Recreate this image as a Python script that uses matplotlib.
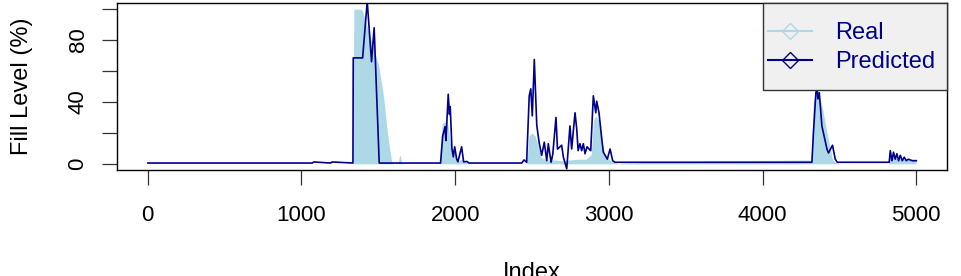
import numpy as np
import matplotlib.pyplot as plt
from matplotlib.lines import Line2D
from matplotlib.patches import Rectangle

# Predicted fill level (index, %) at the turning points
pred_idx = [1, 1070, 1080, 1190, 1200, 1335, 1337, 1398, 1428, 1456, 1473, 1506,
            1905, 1919, 1934, 1940, 1955, 1963, 1968, 1979, 1988, 1997, 2010, 2018,
            2042, 2055, 2077, 2090,
            2433, 2448, 2465, 2482, 2492, 2502, 2515, 2531, 2546, 2563, 2580, 2596,
            2606, 2624, 2635, 2656, 2666, 2693, 2704, 2726, 2747, 2758, 2780, 2791,
            2800, 2812, 2823, 2834, 2845, 2858, 2882, 2899, 2915, 2921, 2936, 2954,
            2964, 2990, 3008, 3025, 3040,
            4321, 4331, 4347, 4355, 4360, 4369, 4386, 4419, 4429, 4455, 4473, 4486,
            4824, 4831, 4842, 4852, 4863, 4874, 4885, 4896, 4909, 4922, 4935, 4948,
            4974, 5000]
pred_val = [0.5, 0.5, 1.2, 0.5, 1.2, 0.5, 68.5, 68.5, 105, 66, 88, 0.5,
            0.5, 18, 24, 15, 45, 32, 37, 10, 4.5, 11, 3, 1.3,
            11, 1.3, 1.5, 0.5,
            0.5, 2.5, 1, 44, 48.5, 31, 67.5, 25, 14, 5.5, 14, 2,
            13, 1, 6, 30, 9.5, 12, 4.3, -3.2, 24.5, 9.6, 33, 22.5,
            8.5, 13, 8.5, 13, 6.5, 11, 8.5, 44, 33, 40.5, 33, 16,
            7.5, 3, 9.6, 2, 1,
            1, 20, 46, 49, 42, 46, 24.5, 9.5, 7, 12, 3, 1,
            1, 8.5, 2, 7.5, 3, 6.5, 2, 5.5, 2, 4.3, 2, 3,
            2, 2]

# Real fill level (index, %)
real_idx = [1, 1335, 1341, 1391, 1400, 1504, 1536, 1558, 1587, 1600, 1628, 1641, 1654,
            1900, 1907, 1917, 1944, 1953, 1966, 1979, 1999, 2018, 2044, 2070, 2090,
            2460, 2470, 2480, 2500, 2520, 2540, 2560, 2600, 2650, 2700, 2750, 2800,
            2850, 2885, 2900, 2915, 2935, 2955, 2975, 3000, 3030, 3060,
            3100, 3500, 4300, 4318, 4330, 4345, 4365, 4386, 4410, 4435, 4455, 4470,
            4500, 4820, 4830, 4900, 4950, 5000]
real_val = [0, 0, 100, 100, 98, 63, 42, 21, 1, 0, 0, 6, 0,
            0, 15, 26, 28, 25, 15, 8, 6, 2, 3, 1, 0,
            0, 5, 18, 20, 18, 12, 4, 2.5, 2.5, 2, 2.5, 3,
            3, 6, 28, 31, 28, 15, 6, 3, 1, 0,
            0.5, 1.5, 2.5, 2, 40, 46, 45, 38, 25, 12, 3, 1,
            0, 0, 5, 3, 3, 3]

x_ticks = [0, 1000, 2000, 3000, 4000, 5000]
y_ticks = [0, 20, 40, 60, 80, 100]
y_labels = ['0', '', '40', '', '80', '']

plt.rcParams['font.family'] = ['Liberation Sans', 'DejaVu Sans']

fig = plt.figure(figsize=(9.61, 2.76), dpi=100)
ax = fig.add_axes([117 / 961, 1 - 170 / 276, 830 / 961, 167 / 276])

ax.fill_between(real_idx, real_val, 0, color='lightblue', lw=0)
ax.plot(pred_idx, pred_val, color='darkblue', lw=1.2)

ax.set_xlim(-200, 5200)
ax.set_ylim(-4, 104)
ax.set_xticks(x_ticks)
ax.set_yticks(y_ticks)
ax.set_yticklabels(y_labels, rotation=90, va='center')

for s in ax.spines.values():
    s.set_linewidth(1.0)
    s.set_color('black')
ax.tick_params(axis='both', length=10.5, width=0.9, labelsize=16, color='#333333')
ax.tick_params(axis='x', pad=14.5)
ax.tick_params(axis='y', pad=10)

ax.set_xlabel('Index', fontsize=17)
ax.set_ylabel('Fill Level (%)', fontsize=17)
ax.xaxis.set_label_coords(0.5, -0.55)
ax.yaxis.set_label_coords(-0.101, 0.5)

# legend box drawn by hand so its size matches R's legend()
box = Rectangle((0.778, 0.479), 0.222, 0.521, transform=ax.transAxes,
                facecolor='#f0f0f0', edgecolor='#333333', lw=1.0,
                zorder=4.5, clip_on=False)
ax.add_patch(box)

handles = [Line2D([], [], color='lightblue', marker='D', mfc='none', ms=8),
           Line2D([], [], color='darkblue', marker='D', mfc='none', ms=8)]
leg = ax.legend(handles, ['Real', 'Predicted'], loc='center',
                bbox_to_anchor=(0.8855, 0.734), frameon=False,
                fontsize=17, handlelength=1.86, handletextpad=0.97,
                labelspacing=0.29, borderpad=0)
for t in leg.get_texts():
    t.set_color('darkblue')

fig.savefig('out.png', dpi=100)
